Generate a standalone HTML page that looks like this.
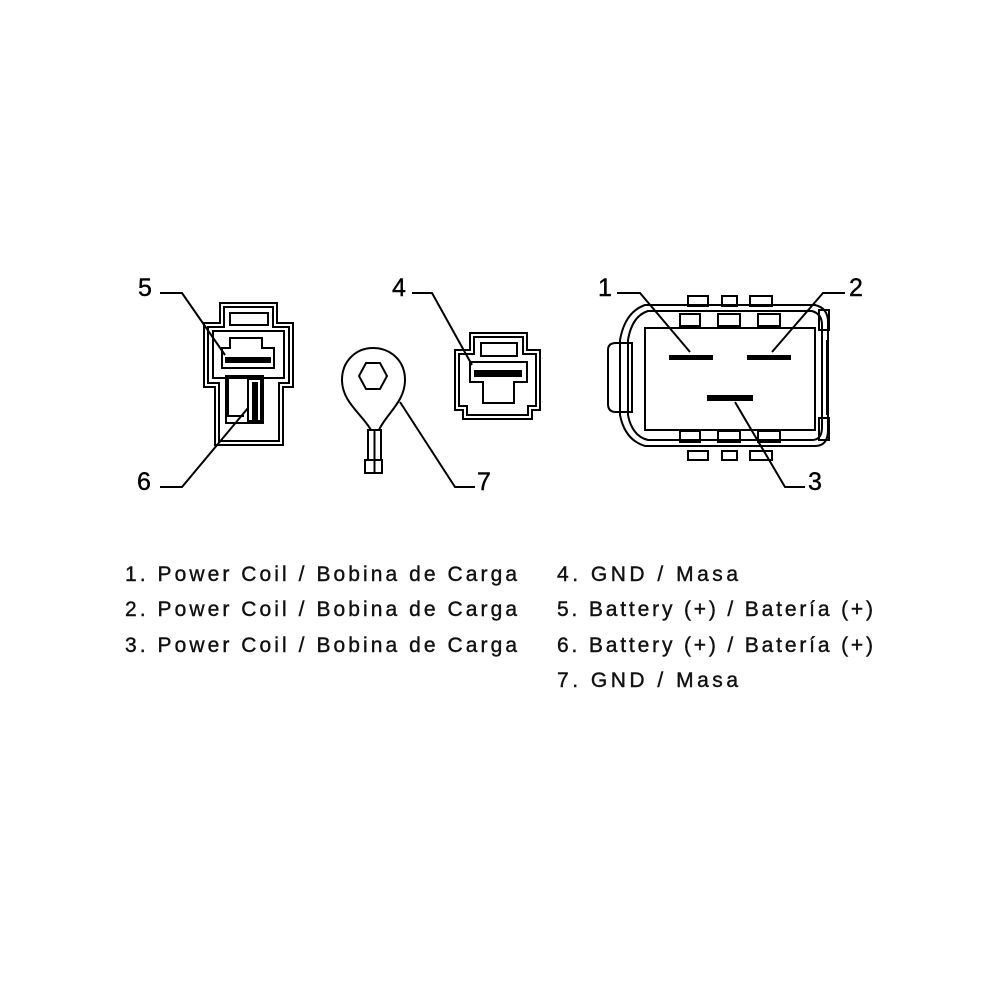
<!DOCTYPE html>
<html><head><meta charset="utf-8"><style>html,body{margin:0;padding:0;background:#fff}svg{display:block}</style></head>
<body>
<svg width="1000" height="1000" viewBox="0 0 1000 1000" xmlns="http://www.w3.org/2000/svg">
<rect width="1000" height="1000" fill="#fff"/>
<g fill="none" stroke="#000" stroke-width="2">
<path d="M220 303 H277 V323 H293 V387 H283 V445 H215 V387 H204 V323 H220 Z"/>
<path d="M224 307 H273 V327 H289 V383 H279 V441 H219 V383 H208 V327 H224 Z"/>
<rect x="230" y="313" width="38" height="12"/>
<path d="M213 331 H284 V378 H213 Z"/>
<path d="M230 338 H262 V348 H274 V368 H222 V348 H230 Z"/>
<rect x="226" y="376" width="37" height="47"/>
<rect x="248" y="379" width="13" height="42"/>
<path d="M228 376 V416 H244"/>
<path d="M371 430 C362 414 342 402 342 380 C342 361 356 348 373 348 C391 348 405 361 405 380 C405 402 386 414 379 430 Z"/>
<polygon points="366,363 380,363 387,376 380,389 366,389 359,376"/>
<rect x="368" y="430" width="13" height="30"/>
<line x1="374.5" y1="430" x2="374.5" y2="472"/>
<rect x="365" y="460" width="17" height="13"/>
<path d="M470 333 H527 V350 H540 V410 H532 V419 H463 V410 H455 V350 H470 Z"/>
<path d="M474 337 H523 V354 H536 V406 H528 V415 H467 V406 H459 V354 H474 Z"/>
<rect x="481" y="343" width="36" height="13"/>
<path d="M470 362 H527 V382 H514 V403 H483 V382 H470 Z"/>
<path d="M645 305 H815 Q828 308 828 322 V430 Q828 446 815 446 H645 Q625 440 620 415 V340 Q625 312 645 305 Z"/>
<path d="M648 311 H812 Q822 314 822 325 V427 Q822 440 812 440 H648 Q632 436 628 415 V340 Q632 316 648 311 Z"/>
<rect x="645" y="328" width="170" height="102"/>
<path d="M608 350 Q608 343 616 343 H632 V412 H616 Q608 412 608 404 Z"/>
<rect x="688" y="296" width="20" height="10"/><rect x="722" y="296" width="15" height="10"/><rect x="750" y="296" width="22" height="10"/>
<rect x="680" y="314" width="20" height="12"/><rect x="718" y="314" width="22" height="12"/><rect x="758" y="314" width="22" height="12"/>
<rect x="680" y="431" width="20" height="11"/><rect x="718" y="431" width="22" height="11"/><rect x="758" y="431" width="22" height="11"/>
<rect x="688" y="451" width="20" height="9"/><rect x="722" y="451" width="15" height="9"/><rect x="750" y="451" width="22" height="9"/>
<rect x="819" y="310" width="10" height="20"/><rect x="819" y="418" width="10" height="22"/>
<polyline points="160,293 182,293 225,355"/>
<polyline points="160,487 182,487 248,408"/>
<polyline points="412,293 432,293 472,365"/>
<polyline points="475,487 455,487 400,402"/>
<polyline points="617,293 640,293 690,352"/>
<polyline points="845,293 823,293 772,352"/>
<polyline points="805,487 785,487 735,402"/>
</g>
<g fill="#000">
<rect x="225" y="357" width="46" height="6"/>
<rect x="252" y="382" width="6" height="38"/>
<rect x="474" y="370" width="48" height="7"/>
<rect x="669" y="355" width="44" height="5"/>
<rect x="747" y="355" width="44" height="5"/>
<rect x="707" y="395" width="46" height="6"/>
<rect x="826" y="340" width="3" height="75"/>
</g>
<g font-family="Liberation Sans, sans-serif" font-size="25" fill="#000" stroke="#000" stroke-width="0.4">
<text x="138" y="296">5</text><text x="137" y="490">6</text>
<text x="392" y="296">4</text><text x="477" y="490">7</text>
<text x="598" y="296">1</text><text x="849" y="296">2</text><text x="808" y="490">3</text>
</g>
<g font-family="Liberation Sans, sans-serif" font-size="21" fill="#111" stroke="#111" stroke-width="0.4">
<text x="125" y="581" textLength="392" lengthAdjust="spacing">1. Power Coil / Bobina de Carga</text>
<text x="125" y="616" textLength="392" lengthAdjust="spacing">2. Power Coil / Bobina de Carga</text>
<text x="125" y="652" textLength="392" lengthAdjust="spacing">3. Power Coil / Bobina de Carga</text>
<text x="557" y="581" textLength="181" lengthAdjust="spacing">4. GND / Masa</text>
<text x="557" y="616" textLength="316" lengthAdjust="spacing">5. Battery (+) / Batería (+)</text>
<text x="557" y="652" textLength="316" lengthAdjust="spacing">6. Battery (+) / Batería (+)</text>
<text x="557" y="687" textLength="181" lengthAdjust="spacing">7. GND / Masa</text>
</g>
</svg>
</body></html>
